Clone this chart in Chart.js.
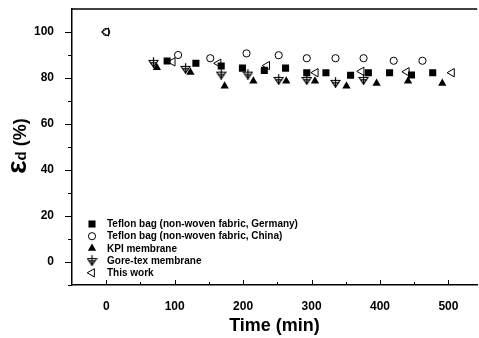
<!DOCTYPE html>
<html>
<head>
<meta charset="utf-8">
<script src="https://cdn.jsdelivr.net/npm/chart.js@4/dist/chart.umd.min.js"></script>
<style>
  html, body { margin: 0; padding: 0; background: #fff; overflow: hidden; width: 479px; height: 338px; }
  canvas { display: block; }
</style>
</head>
<body>
<!-- a few px wider than the window: the right end of the frame is cut off as in the source -->
<canvas id="chart" width="483" height="338"></canvas>
<script>
// ── Data ─────────────────────────────────────────────────────────────────────

const labels = [
  'Teflon bag (non-woven fabric, Germany)',
  'Teflon bag (non-woven fabric, China)',
  'KPI membrane',
  'Gore-tex membrane',
  'This work'
];

const timeGermany = [89, 131, 168, 199, 231, 262, 293, 321, 357, 383, 414, 446, 477];
const effGermany  = [87.4, 86.4, 85.2, 84.3, 83.3, 84.3, 82.3, 82.3, 81.2, 82.3, 82.3, 81.3, 82.3];

const timeChina = [0, 105, 152, 205, 252, 293, 335, 376, 420, 462];
const effChina  = [100, 90, 88.6, 90.7, 89.9, 88.6, 88.6, 88.6, 87.5, 87.5];

const timeKpi = [74, 123, 173, 215, 263, 305, 351, 395, 441, 491];
const effKpi  = [84.5, 82.5, 76.5, 78.7, 78.7, 78.7, 76.5, 77.7, 78.7, 77.7];

const timeGore = [69, 116, 168, 207, 252, 293, 335, 376];
const effGore  = [86.8, 84.2, 81.7, 81.7, 79.4, 79.4, 78.1, 79.4];

const timeThis = [0, 97, 164, 235, 306, 373, 439, 505];
const effThis  = [100, 87, 86.4, 85.4, 82.3, 82.9, 82.7, 82.3];

const xTicks = [0, 100, 200, 300, 400, 500];
const xMinor = [50, 150, 250, 350, 450];
const yTicks = [0, 20, 40, 60, 80, 100];
const yMinor = [-10, 10, 30, 50, 70, 90];

// ── Helpers ──────────────────────────────────────────────────────────────────

const BOLD = '"Liberation Sans", Arial, sans-serif';

function pts(xs, ys) {
  return xs.map((x, i) => ({ x, y: ys[i] }));
}

// Gore-tex marker: open down triangle with a cross through it
function goreMarker() {
  const c = document.createElement('canvas');
  c.width = 11; c.height = 11;
  const g = c.getContext('2d');
  g.strokeStyle = '#000';
  g.lineWidth = 1.2;
  g.beginPath();
  g.moveTo(1, 3.5); g.lineTo(10, 3.5); g.lineTo(5.5, 10.2); g.closePath();
  g.stroke();
  g.beginPath();
  g.moveTo(5.5, 0.3); g.lineTo(5.5, 10.5);
  g.moveTo(2.2, 5.8); g.lineTo(8.8, 5.8);
  g.stroke();
  return c;
}
const GORE = goreMarker();

// ── Datasets ─────────────────────────────────────────────────────────────────

const datasets = [
  { label: labels[0], data: pts(timeGermany, effGermany), pointStyle: 'rect', pointRadius: 5,
    backgroundColor: '#000', borderColor: '#000', borderWidth: 0 },
  { label: labels[1], data: pts(timeChina, effChina), pointStyle: 'circle', pointRadius: 3.6,
    backgroundColor: 'rgba(0,0,0,0)', borderColor: '#000', borderWidth: 1 },
  { label: labels[2], data: pts(timeKpi, effKpi), pointStyle: 'triangle', pointRadius: 4.8,
    backgroundColor: '#000', borderColor: '#000', borderWidth: 0 },
  { label: labels[3], data: pts(timeGore, effGore), pointStyle: GORE, pointRadius: 5,
    backgroundColor: '#000', borderColor: '#000', borderWidth: 0 },
  { label: labels[4], data: pts(timeThis, effThis), pointStyle: 'triangle', pointRotation: -90, pointRadius: 4.8,
    backgroundColor: 'rgba(0,0,0,0)', borderColor: '#000', borderWidth: 1 }
];

// ── Frame, ticks, titles, legend ─────────────────────────────────────────────

const decor = {
  id: 'decor',
  afterDraw(chart) {
    const ctx = chart.ctx;
    const a = chart.chartArea;
    const xs = chart.scales.x, ys = chart.scales.y;
    ctx.save();
    ctx.strokeStyle = '#000';

    // top frame line
    ctx.lineWidth = 1.5;
    ctx.beginPath();
    ctx.moveTo(a.left, a.top); ctx.lineTo(a.right, a.top);
    ctx.stroke();

    // x ticks point into the plot
    ctx.lineWidth = 1;
    ctx.beginPath();
    xTicks.forEach(v => { const p = Math.round(xs.getPixelForValue(v)) + 0.5; ctx.moveTo(p, a.bottom); ctx.lineTo(p, a.bottom - 5); });
    xMinor.forEach(v => { const p = Math.round(xs.getPixelForValue(v)) + 0.5; ctx.moveTo(p, a.bottom); ctx.lineTo(p, a.bottom - 3); });
    // y ticks point outward
    yTicks.forEach(v => { const p = Math.round(ys.getPixelForValue(v)) + 0.5; ctx.moveTo(a.left, p); ctx.lineTo(a.left - 7, p); });
    yMinor.forEach(v => { const p = Math.round(ys.getPixelForValue(v)) + 0.5; ctx.moveTo(a.left, p); ctx.lineTo(a.left - 4, p); });
    ctx.stroke();

    // x title
    ctx.fillStyle = '#000';
    ctx.font = 'bold 18px ' + BOLD;
    ctx.textAlign = 'center';
    ctx.textBaseline = 'middle';
    ctx.fillText('Time (min)', 274.5, 326);

    // y title: εd (%) rotated
    ctx.translate(19, 146);
    ctx.rotate(-Math.PI / 2);
    const parts = [
      { t: 'ε', f: 'bold 28px ' + BOLD, dy: 0 },
      { t: 'd', f: 'bold 15px ' + BOLD, dy: 0 },
      { t: ' (%)', f: 'bold 18px ' + BOLD, dy: 0 }
    ];
    let total = 0;
    parts.forEach(p => { ctx.font = p.f; p.w = ctx.measureText(p.t).width; total += p.w; });
    let cx = -total / 2;
    ctx.textAlign = 'left';
    ctx.textBaseline = 'alphabetic';
    parts.forEach(p => { ctx.font = p.f; ctx.fillText(p.t, cx, 7 + p.dy); cx += p.w; });
    ctx.setTransform(1, 0, 0, 1, 0, 0);

    // legend inside the plot, lower left
    ctx.font = 'bold 10px ' + BOLD;
    ctx.textAlign = 'left';
    ctx.textBaseline = 'middle';
    chart.data.datasets.forEach((ds, i) => {
      const y = 224 + i * 12.2;
      ctx.fillStyle = ds.backgroundColor;
      ctx.strokeStyle = ds.borderColor;
      ctx.lineWidth = ds.borderWidth;
      Chart.helpers.drawPoint(ctx, {
        pointStyle: ds.pointStyle, radius: ds.pointRadius,
        rotation: ds.pointRotation || 0, borderWidth: ds.borderWidth
      }, 92, y);
      ctx.fillStyle = '#000';
      ctx.fillText(ds.label, 107, y + 0.5);
    });
    ctx.restore();
  }
};

// ── Chart ────────────────────────────────────────────────────────────────────

new Chart(document.getElementById('chart').getContext('2d'), {
  type: 'scatter',
  data: { datasets },
  options: {
    responsive: false,
    animation: false,
    devicePixelRatio: 1,
    layout: { padding: { top: 9, right: 0, bottom: 0, left: 0 } },
    plugins: { legend: { display: false }, tooltip: { enabled: false } },
    scales: {
      x: {
        type: 'linear', min: -50, max: 542,
        afterBuildTicks: s => { s.ticks = xTicks.map(v => ({ value: v })); },
        afterFit: s => { s.height = 53; s.paddingLeft = 0; s.paddingRight = 0; },
        grid: { display: false },
        border: { display: true, color: '#000', width: 1.5 },
        ticks: { color: '#000', padding: 6, maxRotation: 0, font: { family: BOLD, size: 12, weight: 'bold' } }
      },
      y: {
        type: 'linear', min: -10, max: 110,
        afterBuildTicks: s => { s.ticks = yTicks.map(v => ({ value: v })); },
        afterFit: s => { s.width = 72; s.paddingTop = 0; s.paddingBottom = 0; },
        grid: { display: false },
        border: { display: true, color: '#000', width: 1.5 },
        ticks: { color: '#000', padding: 10, font: { family: BOLD, size: 12, weight: 'bold' } }
      }
    }
  },
  plugins: [decor]
});
</script>
</body>
</html>
